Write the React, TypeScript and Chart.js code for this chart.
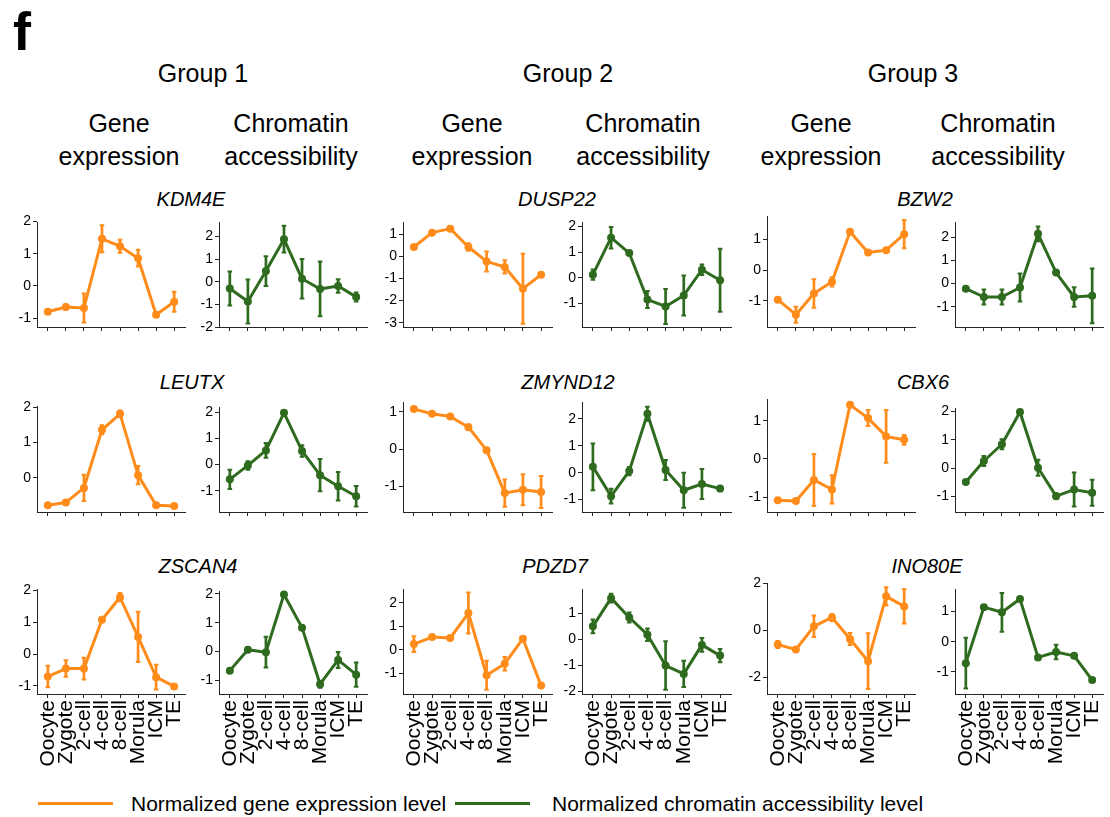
import React, { useEffect, useRef } from "react";
import { Chart, registerables } from "chart.js";

Chart.register(...registerables);

// ---------------- data ----------------
const STAGES = ["Oocyte", "Zygote", "2-cell", "4-cell", "8-cell", "Morula", "ICM", "TE"];
const GROUPS = ["Group 1", "Group 2", "Group 3"];
const SUBTITLE_EXPR = ["Gene", "expression"];
const SUBTITLE_ACC = ["Chromatin", "accessibility"];
const GENES = [
  ["KDM4E", "DUSP22", "BZW2"],
  ["LEUTX", "ZMYND12", "CBX6"],
  ["ZSCAN4", "PDZD7", "INO80E"],
];
const LEGEND_LABELS = ["Normalized gene expression level", "Normalized chromatin accessibility level"];

// Row 1
const KDM4E_EXPR = [-0.8, -0.65, -0.68, 1.46, 1.23, 0.86, -0.89, -0.49];
const KDM4E_EXPR_ERR = [0.07, 0.08, 0.45, 0.42, 0.2, 0.26, 0.05, 0.31];
const KDM4E_EXPR_RANGE = [-1.27, 1.98];
const KDM4E_EXPR_TICKS = [-1, 0, 1, 2];
const KDM4E_ACC = [-0.3, -0.87, 0.47, 1.88, 0.13, -0.32, -0.19, -0.67];
const KDM4E_ACC_ERR = [0.75, 0.97, 0.66, 0.59, 0.87, 1.21, 0.3, 0.2];
const KDM4E_ACC_RANGE = [-2.0, 2.64];
const KDM4E_ACC_TICKS = [-2, -1, 0, 1, 2];

const DUSP22_EXPR = [0.42, 1.07, 1.25, 0.42, -0.23, -0.48, -1.46, -0.83];
const DUSP22_EXPR_ERR = [0.05, 0.07, 0.05, 0.17, 0.45, 0.3, 1.58, 0.05];
const DUSP22_EXPR_RANGE = [-3.19, 1.55];
const DUSP22_EXPR_TICKS = [-3, -2, -1, 0, 1];
const DUSP22_ACC = [0.12, 1.56, 0.96, -0.85, -1.12, -0.69, 0.31, -0.1];
const DUSP22_ACC_ERR = [0.2, 0.42, 0.05, 0.33, 0.68, 0.78, 0.2, 1.23];
const DUSP22_ACC_RANGE = [-1.92, 2.17];
const DUSP22_ACC_TICKS = [-1, 0, 1, 2];

const BZW2_EXPR = [-0.96, -1.45, -0.76, -0.38, 1.25, 0.57, 0.65, 1.17];
const BZW2_EXPR_ERR = [0.08, 0.26, 0.46, 0.15, 0.05, 0.04, 0.05, 0.46];
const BZW2_EXPR_RANGE = [-1.85, 1.76];
const BZW2_EXPR_TICKS = [-1, 0, 1];
const BZW2_ACC = [-0.22, -0.58, -0.58, -0.17, 2.16, 0.48, -0.58, -0.53];
const BZW2_ACC_ERR = [0.05, 0.32, 0.32, 0.61, 0.32, 0.05, 0.42, 1.19];
const BZW2_ACC_RANGE = [-1.88, 2.67];
const BZW2_ACC_TICKS = [-1, 0, 1, 2];

// Row 2
const LEUTX_EXPR = [-0.77, -0.69, -0.28, 1.36, 1.81, 0.08, -0.77, -0.79];
const LEUTX_EXPR_ERR = [0.04, 0.05, 0.37, 0.13, 0.09, 0.26, 0.04, 0.04];
const LEUTX_EXPR_RANGE = [-0.96, 2.03];
const LEUTX_EXPR_TICKS = [0, 1, 2];
const LEUTX_ACC = [-0.56, -0.03, 0.54, 1.97, 0.52, -0.4, -0.82, -1.2];
const LEUTX_ACC_ERR = [0.37, 0.16, 0.28, 0.05, 0.22, 0.61, 0.54, 0.39];
const LEUTX_ACC_RANGE = [-1.8, 2.19];
const LEUTX_ACC_TICKS = [-1, 0, 1, 2];

const ZMYND12_EXPR = [1.08, 0.95, 0.88, 0.59, -0.03, -1.19, -1.1, -1.16];
const ZMYND12_EXPR_ERR = [0.05, 0.05, 0.04, 0.07, 0.05, 0.37, 0.42, 0.43];
const ZMYND12_EXPR_RANGE = [-1.7, 1.27];
const ZMYND12_EXPR_TICKS = [-1, 0, 1];
const ZMYND12_ACC = [0.22, -0.87, 0.06, 2.19, 0.1, -0.65, -0.42, -0.59];
const ZMYND12_ACC_ERR = [0.87, 0.27, 0.15, 0.26, 0.37, 0.65, 0.56, 0.1];
const ZMYND12_ACC_RANGE = [-1.46, 2.63];
const ZMYND12_ACC_TICKS = [-1, 0, 1, 2];

const CBX6_EXPR = [-1.08, -1.1, -0.55, -0.8, 1.42, 1.07, 0.59, 0.5];
const CBX6_EXPR_ERR = [0.06, 0.04, 0.68, 0.37, 0.04, 0.21, 0.69, 0.13];
const CBX6_EXPR_RANGE = [-1.39, 1.57];
const CBX6_EXPR_TICKS = [-1, 0, 1];
const CBX6_ACC = [-0.49, 0.25, 0.84, 1.98, 0.01, -0.99, -0.76, -0.87];
const CBX6_ACC_ERR = [0.07, 0.18, 0.18, 0.04, 0.28, 0.1, 0.6, 0.46];
const CBX6_ACC_RANGE = [-1.55, 2.12];
const CBX6_ACC_TICKS = [-1, 0, 1, 2];

// Row 3
const ZSCAN4_EXPR = [-0.71, -0.46, -0.46, 1.08, 1.79, 0.54, -0.73, -1.02];
const ZSCAN4_EXPR_ERR = [0.34, 0.26, 0.34, 0.06, 0.13, 0.79, 0.39, 0.04];
const ZSCAN4_EXPR_RANGE = [-1.26, 2.05];
const ZSCAN4_EXPR_TICKS = [-1, 0, 1, 2];
const ZSCAN4_ACC = [-0.66, 0.06, -0.02, 1.98, 0.83, -1.13, -0.29, -0.8];
const ZSCAN4_ACC_ERR = [0.06, 0.03, 0.53, 0.03, 0.04, 0.12, 0.28, 0.42];
const ZSCAN4_ACC_RANGE = [-1.47, 2.1];
const ZSCAN4_ACC_TICKS = [-1, 0, 1, 2];

const PDZD7_EXPR = [0.24, 0.54, 0.5, 1.57, -1.1, -0.6, 0.47, -1.54];
const PDZD7_EXPR_ERR = [0.34, 0.05, 0.07, 0.88, 0.62, 0.29, 0.04, 0.04];
const PDZD7_EXPR_RANGE = [-1.9, 2.6];
const PDZD7_EXPR_TICKS = [-1, 0, 1, 2];
const PDZD7_ACC = [0.49, 1.57, 0.83, 0.17, -1.01, -1.33, -0.22, -0.63];
const PDZD7_ACC_ERR = [0.26, 0.17, 0.19, 0.24, 0.93, 0.5, 0.26, 0.25];
const PDZD7_ACC_RANGE = [-2.1, 1.92];
const PDZD7_ACC_TICKS = [-2, -1, 0, 1];

const INO80E_EXPR = [-0.61, -0.82, 0.17, 0.55, -0.37, -1.32, 1.45, 1.02];
const INO80E_EXPR_ERR = [0.15, 0.05, 0.46, 0.15, 0.26, 1.19, 0.39, 0.73];
const INO80E_EXPR_RANGE = [-2.72, 2.02];
const INO80E_EXPR_TICKS = [-2, 0, 2];
const INO80E_ACC = [-0.71, 1.14, 0.97, 1.41, -0.52, -0.34, -0.47, -1.27];
const INO80E_ACC_ERR = [0.84, 0.07, 0.64, 0.04, 0.04, 0.24, 0.04, 0.04];
const INO80E_ACC_RANGE = [-1.73, 1.74];
const INO80E_ACC_TICKS = [-1, 0, 1];

// ---------------- style / layout ----------------
const FONT = '"Liberation Sans", Arial, Helvetica, sans-serif';
const ORANGE = "#FF8C1A";
const GREEN = "#2E6B1F";
const AXIS = "#262626";

const YW = 30; // y-axis band width
const PR = 24; // right padding
const PT = 12; // top padding
const XH_PLAIN = 14;
const XH_LABELS = 86;

const COL_LEFT = [37, 219, 403, 582, 767, 955];
const COL_W = [148, 148, 149, 149, 148, 148];
const ROW_BOTTOM = [327, 512, 694];
const PLOT_TOP = [
  [222, 222, 222, 222, 216, 222],
  [406, 407, 402, 402, 399, 408],
  [589, 591, 589, 589, 583, 589],
];
const GROUP_X = [203, 568, 913];
const SUB_EXPR_X = [119, 472, 821];
const SUB_ACC_X = [291, 643, 998];
const TITLE_X = [
  [191, 557, 925],
  [192, 568, 923],
  [198, 555, 927],
];
const TITLE_TOP = [189, 372, 556];

type Spec = { values: number[]; errors: number[]; range: number[]; ticks: number[]; color: string };
const mk = (values: number[], errors: number[], range: number[], ticks: number[], color: string): Spec => ({
  values,
  errors,
  range,
  ticks,
  color,
});

const PANELS: Spec[][] = [
  [
    mk(KDM4E_EXPR, KDM4E_EXPR_ERR, KDM4E_EXPR_RANGE, KDM4E_EXPR_TICKS, ORANGE),
    mk(KDM4E_ACC, KDM4E_ACC_ERR, KDM4E_ACC_RANGE, KDM4E_ACC_TICKS, GREEN),
    mk(DUSP22_EXPR, DUSP22_EXPR_ERR, DUSP22_EXPR_RANGE, DUSP22_EXPR_TICKS, ORANGE),
    mk(DUSP22_ACC, DUSP22_ACC_ERR, DUSP22_ACC_RANGE, DUSP22_ACC_TICKS, GREEN),
    mk(BZW2_EXPR, BZW2_EXPR_ERR, BZW2_EXPR_RANGE, BZW2_EXPR_TICKS, ORANGE),
    mk(BZW2_ACC, BZW2_ACC_ERR, BZW2_ACC_RANGE, BZW2_ACC_TICKS, GREEN),
  ],
  [
    mk(LEUTX_EXPR, LEUTX_EXPR_ERR, LEUTX_EXPR_RANGE, LEUTX_EXPR_TICKS, ORANGE),
    mk(LEUTX_ACC, LEUTX_ACC_ERR, LEUTX_ACC_RANGE, LEUTX_ACC_TICKS, GREEN),
    mk(ZMYND12_EXPR, ZMYND12_EXPR_ERR, ZMYND12_EXPR_RANGE, ZMYND12_EXPR_TICKS, ORANGE),
    mk(ZMYND12_ACC, ZMYND12_ACC_ERR, ZMYND12_ACC_RANGE, ZMYND12_ACC_TICKS, GREEN),
    mk(CBX6_EXPR, CBX6_EXPR_ERR, CBX6_EXPR_RANGE, CBX6_EXPR_TICKS, ORANGE),
    mk(CBX6_ACC, CBX6_ACC_ERR, CBX6_ACC_RANGE, CBX6_ACC_TICKS, GREEN),
  ],
  [
    mk(ZSCAN4_EXPR, ZSCAN4_EXPR_ERR, ZSCAN4_EXPR_RANGE, ZSCAN4_EXPR_TICKS, ORANGE),
    mk(ZSCAN4_ACC, ZSCAN4_ACC_ERR, ZSCAN4_ACC_RANGE, ZSCAN4_ACC_TICKS, GREEN),
    mk(PDZD7_EXPR, PDZD7_EXPR_ERR, PDZD7_EXPR_RANGE, PDZD7_EXPR_TICKS, ORANGE),
    mk(PDZD7_ACC, PDZD7_ACC_ERR, PDZD7_ACC_RANGE, PDZD7_ACC_TICKS, GREEN),
    mk(INO80E_EXPR, INO80E_EXPR_ERR, INO80E_EXPR_RANGE, INO80E_EXPR_TICKS, ORANGE),
    mk(INO80E_ACC, INO80E_ACC_ERR, INO80E_ACC_RANGE, INO80E_ACC_TICKS, GREEN),
  ],
];

// ---------------- error bar plugin ----------------
const errorBarPlugin = {
  id: "errorBars",
  afterDatasetsDraw(chart: any) {
    const { ctx } = chart;
    const xs = chart.scales.x;
    const ys = chart.scales.y;
    chart.data.datasets.forEach((ds: any) => {
      const errs: number[] = ds.errors || [];
      ctx.save();
      ctx.strokeStyle = ds.borderColor;
      ds.data.forEach((p: any, i: number) => {
        const e = errs[i] || 0;
        const px = xs.getPixelForValue(p.x);
        const y1 = ys.getPixelForValue(p.y + e);
        const y2 = ys.getPixelForValue(p.y - e);
        ctx.lineWidth = 2.7;
        ctx.beginPath();
        ctx.moveTo(px, y1);
        ctx.lineTo(px, y2);
        ctx.stroke();
        ctx.lineWidth = 2;
        ctx.beginPath();
        ctx.moveTo(px - 2.3, y1);
        ctx.lineTo(px + 2.3, y1);
        ctx.moveTo(px - 2.3, y2);
        ctx.lineTo(px + 2.3, y2);
        ctx.stroke();
      });
      ctx.restore();
    });
  },
};

function Panel(props: { spec: Spec; left: number; top: number; width: number; height: number; showLabels: boolean }) {
  const { spec, left, top, width, height, showLabels } = props;
  const ref = useRef<HTMLCanvasElement | null>(null);
  const xh = showLabels ? XH_LABELS : XH_PLAIN;
  const cw = YW + width + PR;
  const ch = PT + height + xh;

  useEffect(() => {
    const canvas = ref.current;
    if (!canvas) return;
    const gridOpts = {
      display: true,
      drawOnChartArea: false,
      drawTicks: true,
      tickLength: 4,
      color: AXIS,
      lineWidth: 1,
    };
    const chart = new Chart(canvas, {
      type: "line",
      data: {
        datasets: [
          {
            data: spec.values.map((v, i) => ({ x: i, y: v })),
            errors: spec.errors,
            borderColor: spec.color,
            backgroundColor: spec.color,
            pointBackgroundColor: spec.color,
            pointBorderColor: spec.color,
            borderWidth: 3,
            borderJoinStyle: "round",
            borderCapStyle: "round",
            pointRadius: 4,
            pointBorderWidth: 0,
            pointHoverRadius: 4,
            tension: 0,
            fill: false,
            clip: false,
          } as any,
        ],
      },
      options: {
        animation: false,
        responsive: false,
        maintainAspectRatio: false,
        devicePixelRatio: 1,
        events: [],
        layout: { padding: { top: PT, right: PR, bottom: 0, left: 0 } },
        plugins: {
          legend: { display: false },
          tooltip: { enabled: false },
          title: { display: false },
        },
        scales: {
          x: {
            type: "linear",
            min: -0.6,
            max: 7.6,
            afterBuildTicks: (axis: any) => {
              axis.ticks = STAGES.map((_, i) => ({ value: i }));
            },
            afterFit: (axis: any) => {
              axis.height = xh;
            },
            grid: gridOpts,
            border: { display: true, color: AXIS, width: 1 },
            ticks: {
              display: showLabels,
              autoSkip: false,
              maxRotation: 90,
              minRotation: 90,
              padding: 2,
              color: "#000",
              font: { family: FONT, size: 21 },
              callback: (v: any) => STAGES[Math.round(Number(v))] ?? "",
            },
          },
          y: {
            type: "linear",
            min: spec.range[0],
            max: spec.range[1],
            afterBuildTicks: (axis: any) => {
              axis.ticks = spec.ticks.map((v) => ({ value: v }));
            },
            afterFit: (axis: any) => {
              axis.width = YW;
            },
            grid: gridOpts,
            border: { display: true, color: AXIS, width: 1 },
            ticks: {
              padding: 2,
              color: "#000",
              font: { family: FONT, size: 14 },
              callback: (v: any) => String(v),
            },
          },
        },
      } as any,
      plugins: [errorBarPlugin],
    });
    return () => chart.destroy();
  }, []);

  return (
    <canvas
      ref={ref}
      width={cw}
      height={ch}
      style={{ position: "absolute", left: left - YW, top: top - PT, width: cw, height: ch }}
    />
  );
}

const centered = (x: number, top: number, extra: React.CSSProperties = {}): React.CSSProperties => ({
  position: "absolute",
  left: x,
  top,
  transform: "translateX(-50%)",
  whiteSpace: "nowrap",
  textAlign: "center",
  ...extra,
});

export default function App() {
  return (
    <div
      style={{
        position: "absolute",
        left: 0,
        top: 0,
        width: 1110,
        height: 817,
        background: "#fff",
        fontFamily: FONT,
        color: "#000",
        overflow: "hidden",
      }}
    >
      <div style={{ position: "absolute", left: 13, top: 4, fontSize: 54, fontWeight: 700, lineHeight: 1 }}>f</div>

      {GROUPS.map((g, i) => (
        <div key={g} style={centered(GROUP_X[i], 58, { fontSize: 25, lineHeight: "30px" })}>
          {g}
        </div>
      ))}
      {GROUPS.map((g, i) => (
        <React.Fragment key={"sub" + g}>
          <div style={centered(SUB_EXPR_X[i], 106.5, { fontSize: 25, lineHeight: "33px" })}>
            {SUBTITLE_EXPR[0]}
            <br />
            {SUBTITLE_EXPR[1]}
          </div>
          <div style={centered(SUB_ACC_X[i], 106.5, { fontSize: 25, lineHeight: "33px" })}>
            {SUBTITLE_ACC[0]}
            <br />
            {SUBTITLE_ACC[1]}
          </div>
        </React.Fragment>
      ))}

      {GENES.map((row, r) =>
        row.map((gname, g) => (
          <div
            key={gname}
            style={centered(TITLE_X[r][g], TITLE_TOP[r], { fontSize: 20, fontStyle: "italic", lineHeight: 1 })}
          >
            {gname}
          </div>
        ))
      )}

      {PANELS.map((row, r) =>
        row.map((spec, c) => (
          <Panel
            key={r + "-" + c}
            spec={spec}
            left={COL_LEFT[c]}
            top={PLOT_TOP[r][c]}
            width={COL_W[c]}
            height={ROW_BOTTOM[r] - PLOT_TOP[r][c]}
            showLabels={r === 2}
          />
        ))
      )}

      <div style={{ position: "absolute", left: 38, top: 801.5, width: 75, height: 3, background: ORANGE }} />
      <div style={{ position: "absolute", left: 131, top: 793, fontSize: 21, lineHeight: 1, whiteSpace: "nowrap" }}>
        {LEGEND_LABELS[0]}
      </div>
      <div style={{ position: "absolute", left: 455, top: 801.5, width: 75, height: 3, background: GREEN }} />
      <div style={{ position: "absolute", left: 552, top: 793, fontSize: 21, lineHeight: 1, whiteSpace: "nowrap" }}>
        {LEGEND_LABELS[1]}
      </div>
    </div>
  );
}
